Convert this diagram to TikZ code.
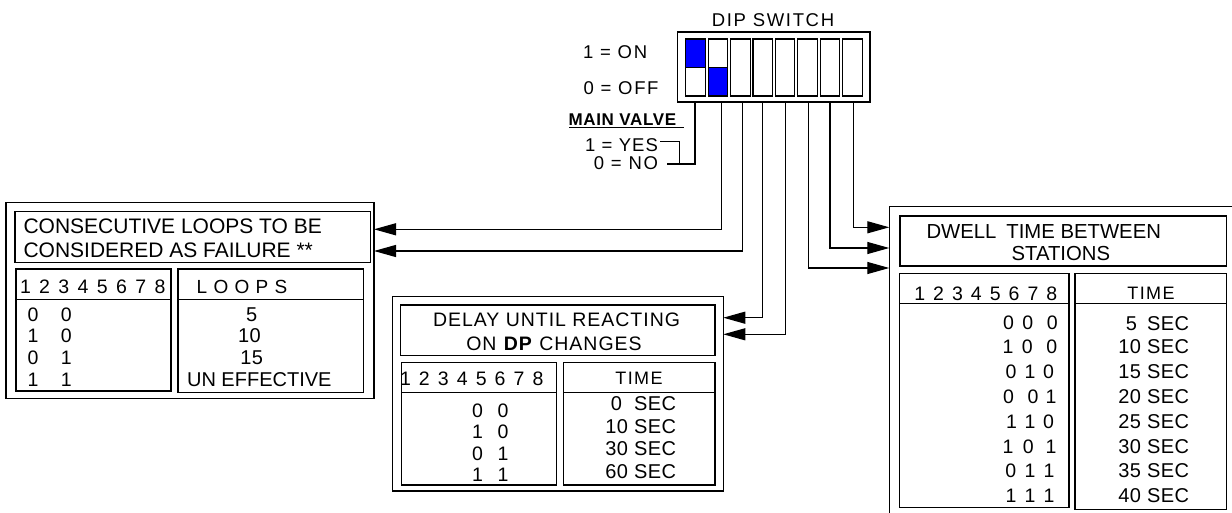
\documentclass[tikz,border=0pt]{standalone}
\usepackage{fontspec}
\setmainfont{Liberation Sans}
\usetikzlibrary{arrows.meta}
\newcommand\F[2]{\fontsize{#1pt}{#1pt}\selectfont\addfontfeatures{LetterSpace=#2}}
\newcommand\bx[5]{\node[box,anchor=north west,minimum width=#4pt,minimum height=#5pt] (#1) at (#2,#3) {};}
\definecolor{swblue}{RGB}{0,0,255}
\begin{document}
\begin{tikzpicture}[x=1pt,y=-1pt,
  every node/.style={inner sep=0pt,outer sep=0pt},
  box/.style={draw,line width=1.2pt,rectangle},
  wire/.style={line width=1.2pt},
  arr/.style={wire,-{Triangle[length=22pt,width=12pt]}},
  hdr/.style={font=\F{19.5}{0}},
  val/.style={font=\F{20}{2}},
  dipf/.style={font=\F{18.5}{9}}]
\useasboundingbox (0,0) rectangle (1232,513);

% ---------- DIP switch ----------
\node[anchor=base,dipf] (diptitle) at (773,26.1) {DIP SWITCH};
\node[anchor=base west,dipf] (on) at (583,58.3) {1 = ON};
\node[anchor=base west,dipf] (off) at (583.5,94.1) {0 = OFF};
\node[anchor=base west] (mv) at (568.5,125.8) {\F{17}{4}\bfseries MAIN VALVE};
\draw[wire] (569,127.7) -- (684,127.7);
\node[anchor=base east] (yes) at (658,151.6) {\F{18.5}{6}1 = YES};
\node[anchor=base east] (no) at (658,169.9) {\F{18.5}{9}0 = NO};

\bx{dip}{677.7}{32}{192.3}{70}
\foreach \i in {0,...,7}{
  \pgfmathsetmacro\xa{685.7+\i*22.43}
  \draw[line width=1.1pt] (\xa,39) rectangle (\xa+19.5,96);
}
\fill[swblue] (685.7,39) rectangle (705.2,67.7);
\draw[line width=1.1pt] (685.7,39) rectangle (705.2,96) (685.7,67.7) -- (705.2,67.7);
\fill[swblue] (708.13,67.7) rectangle (727.63,96);
\draw[line width=1.1pt] (708.13,39) rectangle (727.63,96) (708.13,67.7) -- (727.63,67.7);

% wire start points
\coordinate (s1) at (695,102);
\coordinate (s2) at (721.7,102);
\coordinate (s3) at (742.3,102);
\coordinate (s4) at (762.7,102);
\coordinate (s5) at (785.3,102);
\coordinate (s6) at (808.3,102);
\coordinate (s7) at (830,102);
\coordinate (s8) at (853.3,102);
\coordinate (e1) at (666.7,164);

\draw[wire] (660,141.7) -| (679.3,164);
\draw[wire] (s1) |- (e1);

% ---------- left box ----------
\bx{lbox}{6}{202.7}{368}{195.6}
\bx{ltitle}{15}{211.7}{355.7}{50.6}
\bx{lcolA}{16}{269}{155}{122}
\bx{lcolB}{178}{269}{185.3}{123.3}
\draw[wire] (16,299.3) -- (171,299.3);
\draw[wire] (178,299.3) -- (363.3,299.3);
\node[anchor=base west] (lt1) at (23.5,233.8) {\F{21}{0}CONSECUTIVE LOOPS TO BE};
\node[anchor=base west] (lt2) at (23.5,257.2) {\F{21}{0}CONSIDERED AS FAILURE **};
\node[anchor=base west,hdr] (lh1) at (20,293.6) {\makebox[145.5pt][s]{1 2 3 4 5 6 7 8}};
\node[anchor=base] (lh2) at (242,293.3) {\F{19}{33}LOOPS};
\node[anchor=base west,hdr] (lr1) at (27.5,321.6) {0\hspace{22.5pt}0};
\node[anchor=base west,hdr] (lr2) at (27.5,342.4) {1\hspace{22.5pt}0};
\node[anchor=base west,hdr] (lr3) at (27.5,364.4) {0\hspace{22.5pt}1};
\node[anchor=base west,hdr] (lr4) at (27.5,386.4) {1\hspace{22.5pt}1};
\node[anchor=base,val] (lv1) at (251.7,321.8) {5};
\node[anchor=base,val] (lv2) at (249.5,342.6) {10};
\node[anchor=base,val] (lv3) at (251.7,364.6) {15};
\node[anchor=base] (lv4) at (259.3,386.2) {\F{20}{0}UN EFFECTIVE};

% ---------- middle box ----------
\bx{mbox}{392.3}{296.5}{331}{194.5}
\bx{mtitle}{400.7}{305}{314.3}{50.7}
\bx{mcolA}{401.7}{362.7}{155}{122.3}
\bx{mcolB}{563.3}{362.5}{151.7}{122.5}
\draw[wire] (401.7,392.5) -- (556.7,392.5);
\draw[wire] (563.3,392.5) -- (715,392.5);
\node[anchor=base] (mt1) at (556.5,326.3) {\F{19.5}{5}DELAY UNTIL REACTING};
\node[anchor=base] (mt2) at (554,350.3) {\F{19.5}{5}ON \textbf{DP} CHANGES};
\node[anchor=base west,hdr] (mh1) at (400,385.1) {\makebox[143.5pt][s]{1 2 3 4 5 6 7 8}};
\node[anchor=base] (mh2) at (639,384.5) {\F{18}{8}TIME};
\node[anchor=base west,hdr] (mr1) at (472.2,417.2) {0\hspace{14.5pt}0};
\node[anchor=base west,hdr] (mr2) at (472.2,438.2) {1\hspace{14.5pt}0};
\node[anchor=base west,hdr] (mr3) at (472.2,460.2) {0\hspace{14.5pt}1};
\node[anchor=base west,hdr] (mr4) at (472.2,481.7) {1\hspace{14.5pt}1};
\node[anchor=base east,val] (mv1) at (676,410.7) {0\hspace{12pt}SEC};
\node[anchor=base east,val] (mv2) at (676,433.2) {10 SEC};
\node[anchor=base east,val] (mv3) at (676,455.7) {30 SEC};
\node[anchor=base east,val] (mv4) at (676,478.2) {60 SEC};

% ---------- right box ----------
\coordinate (rbtop) at (1236,206.7);
\coordinate (rbcorner) at (889.3,206.7);
\coordinate (rbbot) at (889.3,516);
\draw[wire] (rbtop) -- (rbcorner) -- (rbbot);
\bx{rtitle}{900}{216}{326.7}{50}
\bx{rcolA}{899.3}{273.3}{169.7}{234.4}
\bx{rcolB}{1075}{273.3}{151.7}{236}
\draw[wire] (899.3,303.3) -- (1069,303.3);
\draw[wire] (1075,303.3) -- (1226.7,303.3);
\node[anchor=base west] (rt1) at (926.5,239) {\F{20.3}{0}DWELL\hspace{10pt}TIME BETWEEN};
\node[anchor=base] (rt2) at (1060.8,260.6) {\F{20.3}{0}STATIONS};
\node[anchor=base west,hdr] (rh1) at (914.3,300.1) {\makebox[143pt][s]{1 2 3 4 5 6 7 8}};
\node[anchor=base] (rh2) at (1151,299.8) {\F{18}{8}TIME};
\node[anchor=base west,hdr] (rr1) at (1003.2,329) {0\hspace{8.4pt}0\hspace{13.7pt}0};
\node[anchor=base west,hdr] (rr2) at (1002.7,353.7) {1\hspace{8.4pt}0\hspace{13.7pt}0};
\node[anchor=base west,hdr] (rr3) at (1005.5,378.5) {0\hspace{8.3pt}1\hspace{7.7pt}0};
\node[anchor=base west,hdr] (rr4) at (1003.2,403) {0\hspace{13.6pt}0\hspace{7.1pt}1};
\node[anchor=base west,hdr] (rr5) at (1006.2,428) {1\hspace{7.6pt}1\hspace{7.7pt}0};
\node[anchor=base west,hdr] (rr6) at (1002.7,453) {1\hspace{9.4pt}0\hspace{11.8pt}1};
\node[anchor=base west,hdr] (rr7) at (1005.4,477.5) {0\hspace{8.4pt}1\hspace{8.1pt}1};
\node[anchor=base west,hdr] (rr8) at (1005.7,502.5) {1\hspace{8.1pt}1\hspace{8.1pt}1};
\node[anchor=base east,val] (rv1) at (1189,330.5) {5\hspace{10pt}SEC};
\node[anchor=base east,val] (rv2) at (1189,353.9) {10 SEC};
\node[anchor=base east,val] (rv3) at (1189,378.9) {15 SEC};
\node[anchor=base east,val] (rv4) at (1189,403.9) {20 SEC};
\node[anchor=base east,val] (rv5) at (1189,428.9) {25 SEC};
\node[anchor=base east,val] (rv6) at (1189,453.9) {30 SEC};
\node[anchor=base east,val] (rv7) at (1189,477.7) {35 SEC};
\node[anchor=base east,val] (rv8) at (1189,502.5) {40 SEC};

% ---------- connectors ----------
\draw[arr] (s2) |- (lbox.east |- 0,229.3);
\draw[arr] (s3) |- (lbox.east |- 0,251);
\draw[arr] (s4) |- (mbox.east |- 0,317.7);
\draw[arr] (s5) |- (mbox.east |- 0,334.3);
\draw[arr] (s8) |- (rbcorner |- 0,227.3);
\draw[arr] (s7) |- (rbcorner |- 0,248);
\draw[arr] (s6) |- (rbcorner |- 0,268);
\end{tikzpicture}
\end{document}
